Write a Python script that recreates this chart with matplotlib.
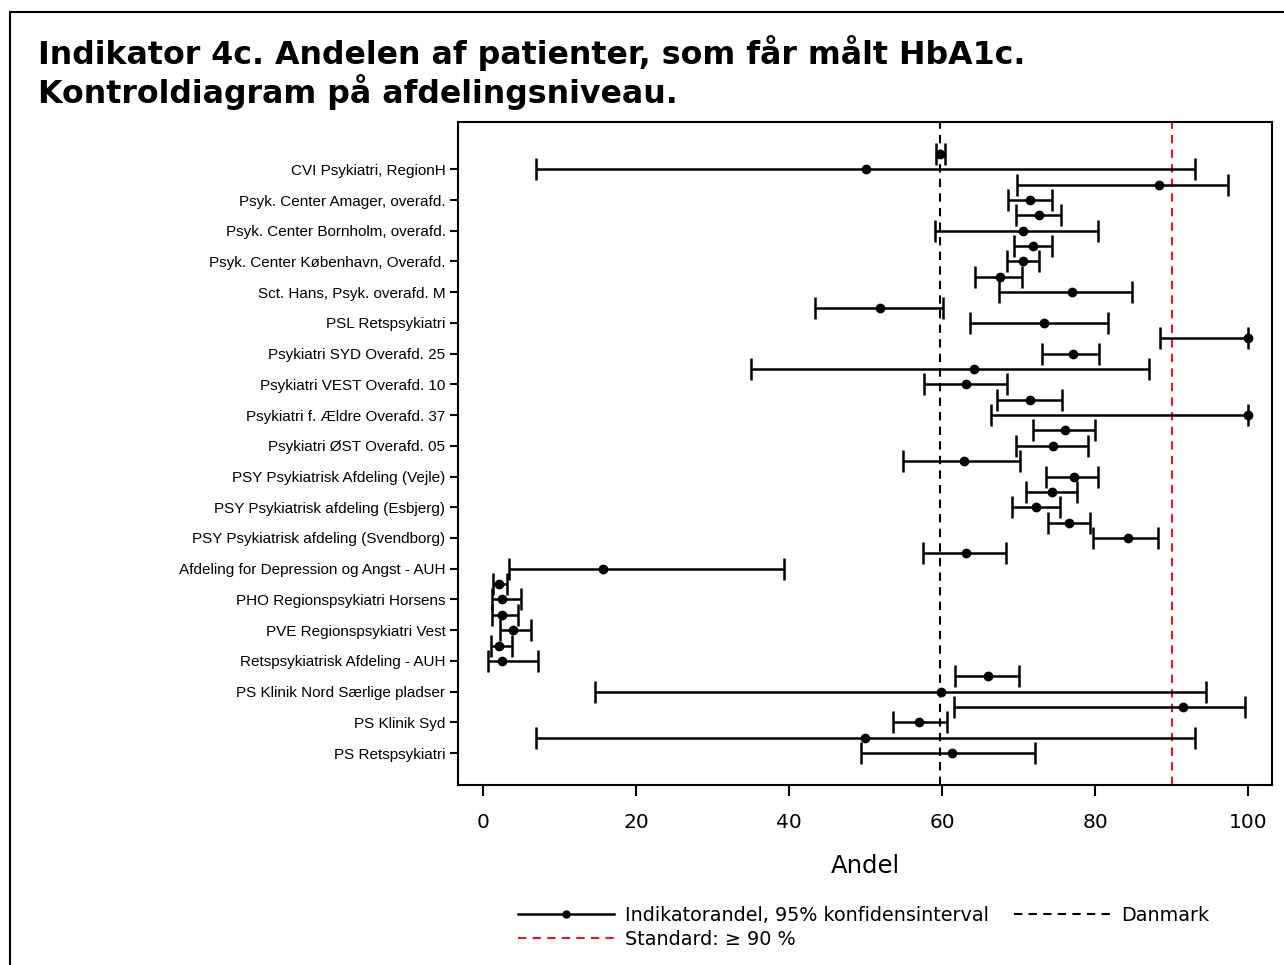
import matplotlib.pyplot as plt
from matplotlib.lines import Line2D
from matplotlib.patches import Rectangle

# labelled rows (every second row carries a tick label)
labels = [
    "CVI Psykiatri, RegionH",
    "Psyk. Center Amager, overafd.",
    "Psyk. Center Bornholm, overafd.",
    "Psyk. Center København, Overafd.",
    "Sct. Hans, Psyk. overafd. M",
    "PSL Retspsykiatri",
    "Psykiatri SYD Overafd. 25",
    "Psykiatri VEST Overafd. 10",
    "Psykiatri f. Ældre Overafd. 37",
    "Psykiatri ØST Overafd. 05",
    "PSY Psykiatrisk Afdeling (Vejle)",
    "PSY Psykiatrisk afdeling (Esbjerg)",
    "PSY Psykiatrisk afdeling (Svendborg)",
    "Afdeling for Depression og Angst - AUH",
    "PHO Regionspsykiatri Horsens",
    "PVE Regionspsykiatri Vest",
    "Retspsykiatrisk Afdeling - AUH",
    "PS Klinik Nord Særlige pladser",
    "PS Klinik Syd",
    "PS Retspsykiatri",
]

# all 40 rows, top to bottom
andel = [59.7, 50.0, 88.3, 71.5, 72.6, 70.5, 71.9, 70.6, 67.5, 76.9,
         51.8, 73.3, 100.0, 77.1, 64.2, 63.1, 71.5, 100.0, 76.1, 74.5,
         62.8, 77.2, 74.4, 72.3, 76.6, 84.3, 63.1, 15.7, 2.0, 2.4,
         2.4, 3.9, 2.1, 2.5, 66.0, 59.8, 91.5, 57.0, 49.9, 61.3]
lower = [59.2, 6.9, 69.8, 68.6, 69.6, 59.1, 69.4, 68.4, 64.3, 67.4,
         43.3, 63.6, 88.4, 73.1, 35.0, 57.6, 67.2, 66.4, 71.8, 69.6,
         54.9, 73.6, 70.9, 69.1, 73.8, 79.7, 57.5, 3.4, 1.3, 1.2,
         1.2, 2.2, 1.0, 0.6, 61.7, 14.6, 61.5, 53.5, 6.9, 49.4]
upper = [60.4, 93.0, 97.3, 74.3, 75.5, 80.4, 74.3, 72.6, 70.4, 84.8,
         60.1, 81.7, 100.0, 80.5, 87.0, 68.4, 75.6, 100.0, 80.0, 79.0,
         70.2, 80.4, 77.6, 75.4, 79.3, 88.2, 68.3, 39.3, 3.1, 4.9,
         4.6, 6.3, 3.7, 7.1, 70.0, 94.5, 99.6, 60.6, 93.0, 72.1]

danmark = 59.7
standard = 90

fig = plt.figure(figsize=(12.84, 9.65), dpi=100)
fig.patches.append(Rectangle((10 / 1284, -0.05), 1.1, 1 - 12 / 965 + 0.05,
                             transform=fig.transFigure, fill=False,
                             edgecolor="black", linewidth=1.5))

fig.text(38 / 1284, 1 - 35 / 965,
         "Indikator 4c. Andelen af patienter, som får målt HbA1c.\nKontroldiagram på afdelingsniveau.",
         fontsize=22.8, fontweight="bold", va="top", ha="left", linespacing=1.1)

ax = fig.add_axes([458 / 1284, 1 - 785 / 965, (1272 - 458) / 1284, (785 - 122) / 965])

rows = list(range(len(andel)))
xerr = [[a - l for a, l in zip(andel, lower)], [u - a for a, u in zip(andel, upper)]]
ax.errorbar(andel, rows, xerr=xerr, fmt="o", color="black", markersize=6,
            elinewidth=1.8, capsize=8, capthick=1.8, zorder=3)

ax.axvline(danmark, color="black", linestyle=(0, (4, 3)), linewidth=1.5, zorder=2)
ax.axvline(standard, color="#d62020", linestyle=(0, (4, 3)), linewidth=1.5, zorder=2)

ax.set_xlim(-3.3, 103.1)
ax.set_ylim(len(andel) - 1 + 2.08, -2.08)
ax.set_yticks(rows[1::2])
ax.set_yticklabels(labels, fontsize=11, family="Liberation Sans")
ax.set_xticks([0, 20, 40, 60, 80, 100])
ax.tick_params(axis="x", labelsize=14.5, length=8, width=1.5, pad=12)
ax.tick_params(axis="y", length=6, width=1.5, pad=3)
ax.set_xlabel("Andel", fontsize=17.5, labelpad=16)
for s in ax.spines.values():
    s.set_linewidth(1.5)

handles = [
    Line2D([], [], color="black", linewidth=1.8, marker="o", markersize=5),
    Line2D([], [], color="#d62020", linestyle=(0, (4, 3)), linewidth=1.5),
    Line2D([], [], color="black", linestyle=(0, (4, 3)), linewidth=1.5),
]
names = ["Indikatorandel, 95% konfidensinterval", "Standard: ≥ 90 %", "Danmark"]
fig.legend(handles, names, loc="upper left", bbox_to_anchor=(518 / 1284, 1 - 906 / 965),
           ncol=2, frameon=False, fontsize=13.8, handlelength=5.0, handletextpad=0.6,
           columnspacing=1.3, labelspacing=0.25, borderaxespad=0, borderpad=0)

fig.savefig("out.png", dpi=100)
